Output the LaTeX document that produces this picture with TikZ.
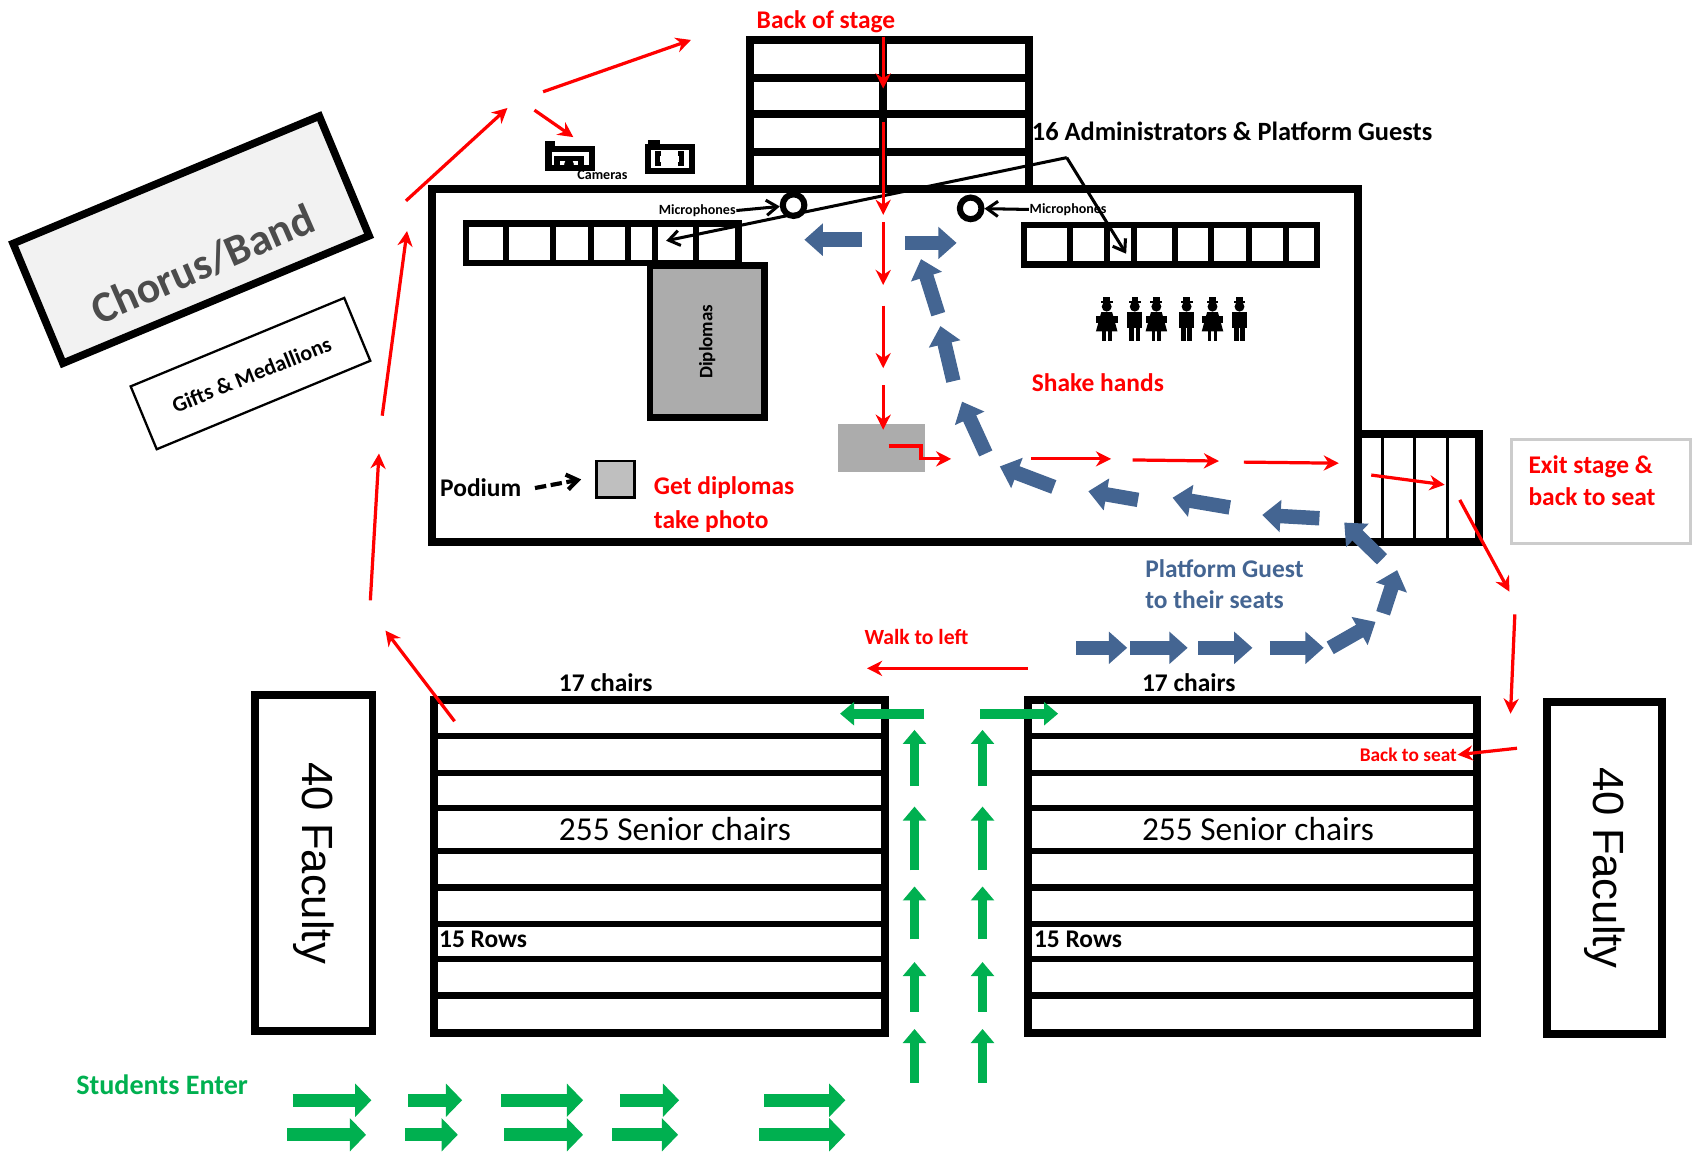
\documentclass[tikz,border=0pt]{standalone}
\usepackage{fontspec}
\setmainfont{Carlito}
\newfontfamily\arialfont{Liberation Sans}
\usetikzlibrary{arrows.meta}
\definecolor{flowred}{RGB}{255,0,0}
\definecolor{guestblue}{RGB}{68,101,146}
\definecolor{entergreen}{RGB}{0,176,80}

\begin{document}
\begin{tikzpicture}[x=0.01cm,y=-0.01cm,
        wall/.style={line width=2.1pt},
        rowline/.style={line width=1.6pt},
        redarrow/.style={draw=flowred,line width=0.85pt,-{Stealth[length=0.14cm,width=0.14cm]}},
        bluearrow/.style={draw=guestblue,line width=3.8pt,-{Triangle[length=0.17cm,width=0.29cm]}},
        greenarrow/.style={draw=entergreen,line width=3.4pt,-{Triangle[length=0.15cm,width=0.3cm]}},
        upgreen/.style={draw=entergreen,line width=2.6pt,-{Triangle[length=0.13cm,width=0.21cm]}},
        callout/.style={line width=0.8pt,-{Straight Barb[length=0.1cm,width=0.14cm]}},
        lbl/.style={font=\bfseries\fontsize{6.7}{8}\selectfont,inner sep=0pt},
        redlbl/.style={lbl,text=flowred},
        tinylbl/.style={font=\bfseries\fontsize{3.7}{4}\selectfont,inner sep=0pt}]
    \useasboundingbox (0,0) rectangle (1568,1070);

    % back of stage
    \draw[wall] (695,37) rectangle (953,175);
    \foreach \y in {72,106,141} \draw[wall] (695,\y) -- (953,\y);
    \draw[wall] (818,37) -- (818,175);
    \node[redlbl] (backlbl) at (765,20) {Back of stage};

    % stage and stairs
    \draw[wall] (400,175) rectangle (1258,502);
    \draw[wall] (1258,402) rectangle (1370,502);
    \foreach \x in {1280,1310,1341} \draw[line width=0.8pt] (\x,404) -- (\x,500);

    % platform chairs
    \draw[rowline] (432,207) rectangle (684,244);
    \foreach \x in {469,512,547,582,607,645} \draw[rowline] (\x,207) -- (\x,244);
    \draw[rowline] (948,208) rectangle (1220,245);
    \foreach \x in {991,1025,1050,1088,1122,1157,1191} \draw[rowline] (\x,208) -- (\x,245);

    % tables
    \draw[line width=1.8pt,fill=gray!65] (602,246) rectangle (708,387)
        node[pos=.5,rotate=90,font=\bfseries\fontsize{5}{6}\selectfont] (dipl) {Diplomas};
    \fill[gray!65] (776,393) rectangle (857,437);
    \node[draw,line width=0.7pt,fill=gray!50,minimum width=0.35cm,minimum height=0.34cm,inner sep=0pt] (podbox) at (570,444) {};
    \node[lbl,anchor=west] (podlbl) at (407,452) {Podium};
    \draw[line width=1.1pt,dash pattern=on 3pt off 1.2pt,-{Straight Barb[length=0.1cm,width=0.14cm]}]
        ([xshift=0.12cm]podlbl.east) -- ([xshift=-0.13cm]podbox.west);

    % microphones
    \node[circle,draw,line width=1.6pt,minimum size=0.2cm,inner sep=0pt] (micL) at (735,190) {};
    \node[circle,draw,line width=1.6pt,minimum size=0.2cm,inner sep=0pt] (micR) at (899,193) {};
    \node[tinylbl,anchor=east] (micLlbl) at (682,195) {Microphones};
    \node[tinylbl,anchor=west] (micRlbl) at (953,194) {Microphones};
    \draw[callout] (micLlbl.east) -- (micL);
    \draw[callout] (micRlbl.west) -- (micR);

    % cameras
    \draw[line width=1.6pt] (508,138) rectangle (548,156);
    \fill (505,131) rectangle (514,138);
    \draw[line width=1.4pt] (516,156) -- (516,147) -- (538,147) -- (538,156);
    \fill (527,152) circle (4.5);
    \draw[line width=1.6pt] (600,136) rectangle (641,158);
    \fill (600,130) rectangle (611,136);
    \draw[line width=1.2pt] (612,142) -- (609,142) -- (609,152) -- (612,152);
    \draw[line width=1.2pt] (628,142) -- (631,142) -- (631,152) -- (628,152);
    \node[tinylbl] (camlbl) at (558,162) {Cameras};

    % administrators
    \node[lbl,anchor=west,font=\bfseries\fontsize{6.95}{8}\selectfont] (admins) at (955,122) {16 Administrators \& Platform Guests};
    \coordinate (adminBend) at (988,146);
    \coordinate (leftSeat) at (617,223);
    \coordinate (rightSeat) at (1043,235);
    \draw[callout] (adminBend) -- (leftSeat);
    \draw[callout] (adminBend) -- (rightSeat);

    % people
    \foreach \px in {1025,1071,1123} {
        \fill (\px,284) circle (4.6);
        \fill (\px-5.5,279) rectangle (\px+5.5,280.5);
        \fill (\px-3,275) rectangle (\px+3,279);
        \fill (\px-5,289) -- (\px+5,289) -- (\px+10,307) -- (\px-10,307) -- cycle;
        \fill (\px-10,293) rectangle (\px+10,299);
        \fill (\px-4.5,306) rectangle (\px-1,316);
        \fill (\px+1,306) rectangle (\px+4.5,316);
    }
    \foreach \px in {1051,1099,1148} {
        \fill (\px,284) circle (4.6);
        \fill (\px-5.5,279) rectangle (\px+5.5,280.5);
        \fill (\px-3,275) rectangle (\px+3,279);
        \fill (\px-7,289) rectangle (\px+7,304);
        \fill (\px-5,303) rectangle (\px-0.8,316);
        \fill (\px+0.8,303) rectangle (\px+5,316);
    }

    % stage labels
    \node[redlbl,anchor=west] (getlbl) at (605,452) {Get diplomas};
    \node[redlbl,anchor=west] (photolbl) at (605,483) {take photo};
    \node[redlbl,anchor=west] (shakelbl) at (955,354) {Shake hands};

    % exit
    \draw[gray!40,line width=0.8pt] (1400,407) rectangle (1566,503);
    \node[redlbl,anchor=west] (exitlbl) at (1415,432) {Exit stage \&};
    \node[redlbl,anchor=west] (exitlbl2) at (1415,460) {back to seat};

    % chorus and gifts
    \node[draw,line width=2pt,fill=gray!10,rotate=22.6,minimum width=3.07cm,minimum height=1.2cm] (chorus) at (177,222) {};
    \node[rotate=23.5,text=black!70,font=\bfseries\fontsize{11.5}{13}\selectfont] (chorlbl) at (188,245) {Chorus/Band};
    \node[draw,line width=0.6pt,rotate=22.5,minimum width=2.14cm,minimum height=0.63cm] (gifts) at (232,346) {};
    \node[rotate=22,font=\bfseries\fontsize{5.8}{6}\selectfont] (giftlbl) at (233,347) {Gifts \& Medallions};

    % seating
    \draw[wall] (402,648) rectangle (820,957);
    \draw[wall] (952,648) rectangle (1368,957);
    \foreach \y in {682,716,748,788,822,856,888,922} {
        \draw[rowline] (402,\y) -- (820,\y);
        \draw[rowline] (952,\y) -- (1368,\y);
    }
    \node[lbl,anchor=west] (chairsL) at (517,632) {17 chairs};
    \node[lbl,anchor=west] (chairsR) at (1057,632) {17 chairs};
    \node[anchor=west,inner sep=0pt,font=\fontsize{8.8}{10}\selectfont] (seniorL) at (517,768) {255 Senior chairs};
    \node[anchor=west,inner sep=0pt,font=\fontsize{8.8}{10}\selectfont] (seniorR) at (1057,768) {255 Senior chairs};
    \node[lbl,anchor=west] (rowsL) at (406,870) {15 Rows};
    \node[lbl,anchor=west] (rowsR) at (957,870) {15 Rows};

    % faculty
    \draw[wall] (236,644) rectangle (345,955) node[pos=.5,rotate=-90,font=\arialfont\fontsize{11.5}{13}\selectfont] (facL) {40 Faculty};
    \draw[wall] (1433,650) rectangle (1539,958) node[pos=.5,rotate=-90,font=\arialfont\fontsize{11.5}{13}\selectfont] (facR) {40 Faculty};

    % guests
    \node[lbl,anchor=west,text=guestblue] (guestlbl) at (1060,527) {Platform Guest};
    \node[lbl,anchor=west,text=guestblue] (guestlbl2) at (1060,555) {to their seats};
    \foreach \a/\b/\c/\d in {798/222/745/222, 838/225/886/225, 869/291/853/240, 883/353/871/302,
            913/420/891/372, 976/451/926/432, 1054/463/1008/455, 1139/470/1086/461,
            1222/480/1169/477, 1280/518/1245/484, 1281/568/1294/528, 1232/600/1274/576,
            1176/600/1226/600, 1110/600/1160/600, 1047/600/1100/600, 997/600/1044/600}
        \draw[bluearrow] (\a,\b) -- (\c,\d);

    % students
    \node[lbl,anchor=west,text=entergreen,font=\bfseries\fontsize{7.4}{8}\selectfont] (enterlbl) at (70,1005) {Students Enter};
    \foreach \a/\b in {271/344,378/428,464/540,574/629,708/783} \draw[greenarrow] (\a,1019) -- (\b,1019);
    \foreach \a/\b in {266/339,375/424,467/540,567/628,703/783} \draw[greenarrow] (\a,1051) -- (\b,1051);
    \foreach \a/\b in {1003/953,937/891,870/821,806/747,728/676} {
        \draw[upgreen] (847,\a) -- (847,\b);
        \draw[upgreen] (910,\a) -- (910,\b);
    }
    \draw[upgreen] (856,661) -- (778,661);
    \draw[upgreen] (908,661) -- (980,661);

    % senior route
    \foreach \a/\b/\c/\d in {421/668/357/584, 343/556/351/420, 354/385/377/214, 376/186/470/100,
            503/85/640/37, 495/102/531/127, 818/34/818/82, 818/113/818/199, 818/206/818/264,
            818/283/818/341, 818/357/818/398, 955/425/1029/425, 1049/426/1129/427,
            1152/428/1240/429, 1270/440/1338/449, 1352/463/1398/548, 1403/569/1399/661,
            952/619/803/619}
        \draw[redarrow] (\a,\b) -- (\c,\d);
    \draw[redarrow] (823,413) -- (853,413) -- (853,425) -- (881,425);
    \node[redlbl,anchor=west,font=\bfseries\fontsize{5.7}{6}\selectfont] (leftlbl) at (800,590) {Walk to left};
    \node[redlbl,anchor=east,font=\bfseries\fontsize{5.1}{6}\selectfont] (seatlbl) at (1350,699) {Back to seat};
    \coordinate (seatStart) at (1405,693);
    \draw[redarrow] (seatStart) -- (seatlbl.east);
\end{tikzpicture}
\end{document}
